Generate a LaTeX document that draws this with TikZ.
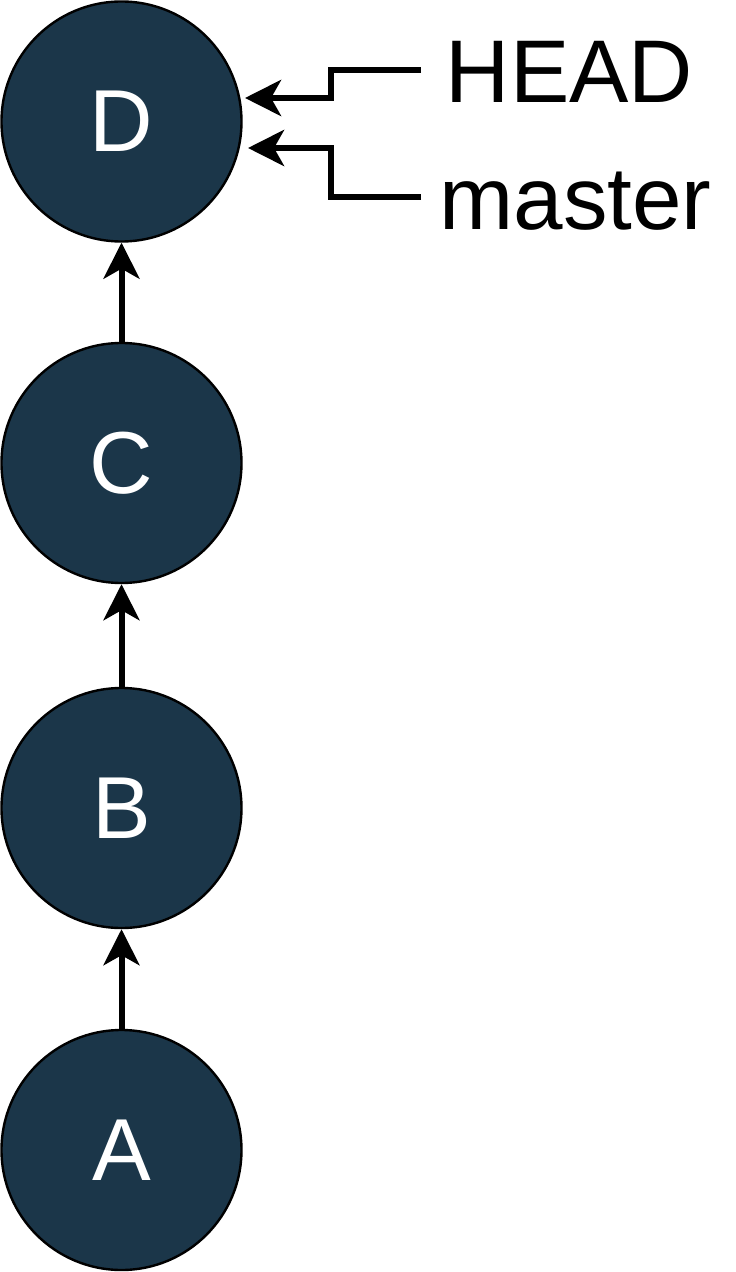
\documentclass[tikz,border=0pt]{standalone}
\usepackage{fontspec}
\setmainfont{Liberation Sans}
\usetikzlibrary{arrows.meta}
\definecolor{navy}{RGB}{27,54,73}
\begin{document}
\begin{tikzpicture}[x=0.5pt,y=-0.5pt,
  commit/.style={circle,draw=black,line width=1.2pt,fill=navy,text=white,minimum size=120pt,inner sep=0pt,font=\fontsize{44}{44}\selectfont},
  lbl/.style={inner sep=0pt,anchor=base,font=\fontsize{44.5}{44.5}\selectfont},
  arr/.style={line width=3pt,-{Stealth[length=18pt,width=18pt,inset=5pt]}}]
\useasboundingbox (0,0) rectangle (735,1272);
\node[commit] (D) at (121.5,121.5) {D};
\node[commit] (C) at (121.5,463) {C};
\node[commit] (B) at (121.5,808) {B};
\node[commit] (A) at (121.5,1150) {A};
\draw[arr] (C) -- (D);
\draw[arr] (B) -- (C);
\draw[arr] (A) -- (B);
\node[lbl] (head) at (569.5,103) {HEAD};
\node[lbl] (master) at (575.5,230) {master};
\coordinate (hs) at (421,70);
\coordinate (ht) at (245,98);
\coordinate (ms) at (421,197);
\coordinate (mt) at (248,148);
\draw[arr] (hs) -- (331,70) -- (331,98) -- (ht);
\draw[arr] (ms) -- (331,197) -- (331,148) -- (mt);
\end{tikzpicture}
\end{document}
